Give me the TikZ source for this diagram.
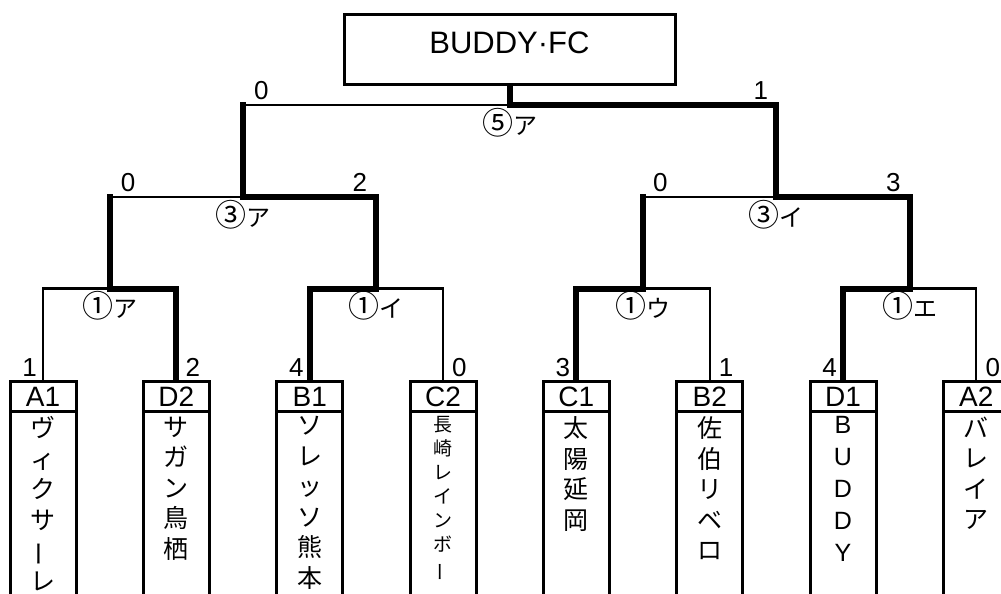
\documentclass[tikz,border=0pt]{standalone}
\usepackage{fontspec}
\setmainfont{Liberation Sans}
\newfontfamily\jpfont{Noto Sans CJK JP}
\usepackage{graphicx}
\usetikzlibrary{positioning}
\newcommand{\chouon}{\rotatebox[origin=c]{90}{ー}}
\newcommand{\maru}[1]{{\fontsize{31}{31}\selectfont #1}}

\begin{document}
\begin{tikzpicture}[x=1pt,y=-1pt,
  seed/.style={draw,line width=3pt,outer sep=0pt,minimum width=66pt,minimum height=30pt,inner sep=0pt,font=\fontsize{28}{30}\selectfont},
  column/.style={line width=3pt},
  teamname/.style={align=center,inner sep=0pt,font=\jpfont\fontsize{25}{30.5}\selectfont},
  teamsmall/.style={align=center,inner sep=0pt,font=\jpfont\fontsize{19}{24}\selectfont},
  teamlatin/.style={align=center,inner sep=0pt,font=\fontsize{25}{32}\selectfont},
  win/.style={line width=6pt,line cap=rect},
  winteam/.style={win,shorten <=3pt},
  lose/.style={line width=2.2pt},
  score/.style={inner sep=0pt,font=\fontsize{26}{28}\selectfont},
  match/.style={inner sep=0pt,font=\jpfont\fontsize{24}{27}\selectfont},
]
  \useasboundingbox (0,0) rectangle (1001,594);

  % ===== Champion =====
  \node[draw,line width=3pt,outer sep=0pt,minimum width=331pt,minimum height=70pt,
        text depth=13pt,font=\fontsize{31}{33}\selectfont] (champ) at (509.5,49.5) {BUDDY·FC};

  % ===== Teams =====
  \foreach \id/\x/\nstyle/\nm in {
    A1/43/teamname/{ヴ\\ィ\\ク\\サ\\\chouon\\レ},
    D2/176.3/teamname/{サ\\ガ\\ン\\鳥\\栖},
    B1/309.7/teamname/{ソ\\レ\\ッ\\ソ\\熊\\本},
    C2/443/teamsmall/{長\\崎\\レ\\イ\\ン\\ボ\\\chouon},
    C1/576.3/teamname/{太\\陽\\延\\岡},
    B2/709.7/teamname/{佐\\伯\\リ\\ベ\\ロ},
    D1/843/teamlatin/{B\\U\\D\\D\\Y},
    A2/976.3/teamname/{バ\\レ\\イ\\ア}} {
    \node[seed] (\id) at (\x,396.5) {\id};
    \draw[column] (\id.south west) -- ++(0pt,-220pt) (\id.south east) -- ++(0pt,-220pt);
    \node[\nstyle,below=5pt of \id] (\id n) {\nm};
  }

  % ===== Joints =====
  \coordinate (j1a) at (109.7,288.5);
  \coordinate (j1b) at (376.3,288.5);
  \coordinate (j1c) at (643,288.5);
  \coordinate (j1d) at (909.7,288.5);
  \coordinate (j3a) at (243,197);
  \coordinate (j3b) at (776.3,197);
  \coordinate (j5a) at (509.5,105);

  % --- 1st round ---
  \draw[lose] (A1.north) |- (j1a);
  \draw[winteam] (D2.north) |- (j1a);
  \draw[winteam] (B1.north) |- (j1b);
  \draw[lose] (C2.north) |- (j1b);
  \draw[winteam] (C1.north) |- (j1c);
  \draw[lose] (B2.north) |- (j1c);
  \draw[winteam] (D1.north) |- (j1d);
  \draw[lose] (A2.north) |- (j1d);

  % --- 3rd round ---
  \draw[win] (j1a) -- (j1a |- j3a);
  \draw[lose] (j1a |- j3a) -- (j3a);
  \draw[win] (j1b) |- (j3a);
  \draw[win] (j1c) -- (j1c |- j3b);
  \draw[lose] (j1c |- j3b) -- (j3b);
  \draw[win] (j1d) |- (j3b);

  % --- 5th round ---
  \draw[win] (j3a) -- (j3a |- j5a);
  \draw[lose] (j3a |- j5a) -- (j5a);
  \draw[win] (j3b) |- (j5a);
  \draw[win,shorten >=3pt] (j5a) -- (champ.south);

  % ===== Scores =====
  \node[score,above left=5pt and 6pt of A1.north] (sA1) {1};
  \node[score,above right=5pt and 9pt of D2.north] (sD2) {2};
  \node[score,above left=5pt and 6pt of B1.north] (sB1) {4};
  \node[score,above right=5pt and 9pt of C2.north] (sC2) {0};
  \node[score,above left=5pt and 6pt of C1.north] (sC1) {3};
  \node[score,above right=5pt and 9pt of B2.north] (sB2) {1};
  \node[score,above left=5pt and 6pt of D1.north] (sD1) {4};
  \node[score,above right=5pt and 9pt of A2.north] (sA2) {0};

  \node[score,anchor=south west] (s3aL) at ([xshift=11pt,yshift=5pt]j1a |- j3a) {0};
  \node[score,anchor=south east] (s3aR) at ([xshift=-9pt,yshift=5pt]j1b |- j3a) {2};
  \node[score,anchor=south west] (s3bL) at ([xshift=10pt,yshift=5pt]j1c |- j3b) {0};
  \node[score,anchor=south east] (s3bR) at ([xshift=-9pt,yshift=5pt]j1d |- j3b) {3};
  \node[score,anchor=south west] (s5aL) at ([xshift=11pt,yshift=5pt]j3a |- j5a) {0};
  \node[score,anchor=south east] (s5aR) at ([xshift=-8pt,yshift=5pt]j3b |- j5a) {1};

  % ===== Match labels =====
  \node[match,below=3pt of j1a] (m1a) {\maru{①}ア};
  \node[match,below=3pt of j1b] (m1b) {\maru{①}イ};
  \node[match,below=3pt of j1c] (m1c) {\maru{①}ウ};
  \node[match,below=3pt of j1d] (m1d) {\maru{①}エ};
  \node[match,below=3pt of j3a] (m3a) {\maru{③}ア};
  \node[match,below=3pt of j3b] (m3b) {\maru{③}イ};
  \node[match,below=3pt of j5a] (m5a) {\maru{⑤}ア};
\end{tikzpicture}
\end{document}
